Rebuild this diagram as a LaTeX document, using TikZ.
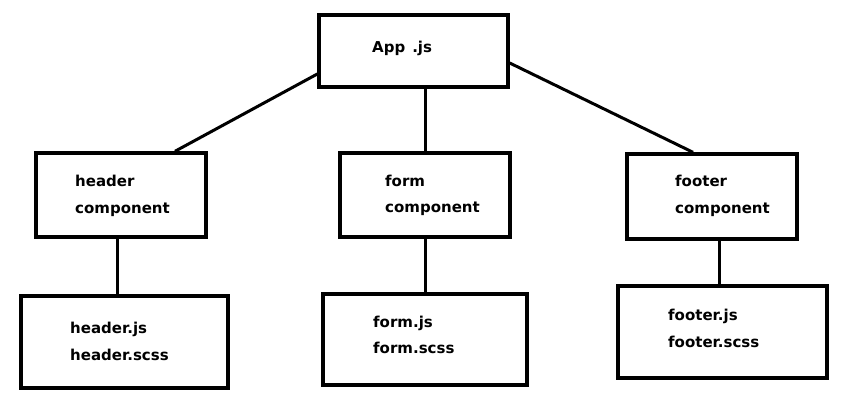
\documentclass[tikz,border=0pt]{standalone}
\usepackage{fontspec}
\setmainfont{DejaVu Sans}
\begin{document}
\begin{tikzpicture}[x=1pt,y=-1pt,
  box/.style={draw=black,line width=3.4pt,rectangle,inner sep=0pt},
  lbl/.style={anchor=base west,inner sep=0pt,font=\fontsize{15}{17}\selectfont\bfseries},
  link/.style={draw=black,line width=3pt}]
\fill[white] (0,0) rectangle (851,414);
\useasboundingbox (0,0) rectangle (851,414);
% boxes
\node[box,minimum width=189pt,minimum height=72pt] (app) at (413.5,51) {};
\node[box,minimum width=170pt,minimum height=84pt] (hc) at (121,195) {};
\node[box,minimum width=170pt,minimum height=84pt] (fc) at (425,195) {};
\node[box,minimum width=170pt,minimum height=85pt] (ftc) at (712,196.5) {};
\node[box,minimum width=207pt,minimum height=92pt] (hj) at (124.5,342) {};
\node[box,minimum width=204pt,minimum height=91pt] (fj) at (425,339.5) {};
\node[box,minimum width=209pt,minimum height=92pt] (ftj) at (722.5,332) {};
% labels
\node[lbl] (tapp) at (372,53) {App\hspace{7pt}.js};
\node[lbl] (thc1) at (75,187) {header};
\node[lbl] (thc2) at (75,214) {component};
\node[lbl] (tfc1) at (385,187) {form};
\node[lbl] (tfc2) at (385,213) {component};
\node[lbl] (tftc1) at (675,187) {footer};
\node[lbl] (tftc2) at (675,214) {component};
\node[lbl] (thj1) at (70,333) {header.js};
\node[lbl] (thj2) at (70,360) {header.scss};
\node[lbl] (tfj1) at (373,327) {form.js};
\node[lbl] (tfj2) at (373,353) {form.scss};
\node[lbl] (tftj1) at (668,320) {footer.js};
\node[lbl] (tftj2) at (668,347) {footer.scss};
% connectors
\draw[link] ([yshift=-23pt]app.west) -- ([xshift=54pt]hc.north);
\draw[link] ([yshift=-12pt]app.east) -- ([xshift=-19pt]ftc.north);
\draw[link] (fc.north |- app.south) -- (fc.north);
\draw[link] (fc.south) -- (fj.north);
\draw[link] ([xshift=-4pt]hc.south) -- ([xshift=-4pt]hc.south |- hj.north);
\draw[link] ([xshift=7pt]ftc.south) -- ([xshift=7pt]ftc.south |- ftj.north);
\end{tikzpicture}
\end{document}
